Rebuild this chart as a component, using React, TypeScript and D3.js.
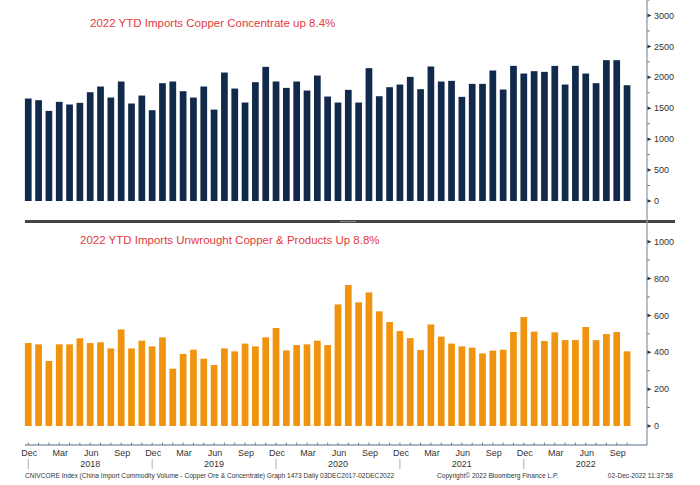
import * as d3 from "d3";

// monthly imports, Dec 2017 .. Oct 2022
const months = d3.timeMonth.range(new Date(2017, 11, 1), new Date(2022, 10, 1));

const concentrate = [
  1657, 1630, 1457, 1603, 1560, 1587, 1759, 1851, 1673, 1932, 1576, 1705,
  1468, 1905, 1932, 1775, 1673, 1851, 1478, 2077, 1818, 1592, 1921, 2169,
  1932, 1829, 1932, 1786, 2029, 1689, 1592, 1797, 1592, 2148, 1694, 1840,
  1883, 2007, 1808, 2175, 1932, 1943, 1684, 1894, 1894, 2110, 1802, 2185,
  2061, 2099, 2088, 2185, 1883, 2185, 2061, 1905, 2277, 2277, 1872,
];

const unwrought = [
  450, 443, 353, 443, 443, 476, 450, 454, 421, 524, 421, 463,
  432, 481, 311, 391, 414, 365, 331, 421, 405, 447, 432, 481,
  532, 410, 439, 443, 463, 439, 660, 765, 671, 725, 622, 564,
  515, 477, 412, 551, 485, 447, 432, 425, 394, 409, 414, 510,
  591, 512, 461, 508, 466, 466, 537, 466, 499, 510, 405,
];

const topTicks = [0, 500, 1000, 1500, 2000, 2500, 3000];
const bottomTicks = [0, 200, 400, 600, 800, 1000];

const topTitle = "2022 YTD Imports Copper Concentrate up 8.4%";
const bottomTitle = "2022 YTD Imports Unwrought Copper & Products Up 8.8%";
const footLeft =
  "CNIVCORE Index (China Import Commodity Volume - Copper Ore & Concentrate) Graph 1473  Daily 03DEC2017-02DEC2022";
const footMid = "Copyright\u00a9 2022 Bloomberg Finance L.P.";
const footRight = "02-Dec-2022 11:37:58";

const W = 700;
const H = 485;
const axisX = 647;
const axisColor = "#8a9db0";
const font = "'Liberation Sans', Arial, sans-serif";

export default function App() {
  const x = d3
    .scaleBand<number>()
    .domain(d3.range(months.length))
    .range([23.1, 632.2])
    .paddingInner(0.35)
    .paddingOuter(0.175);

  const yTop = d3.scaleLinear().domain([0, 3250]).range([201, 0]);
  const yBot = d3.scaleLinear().domain([0, 1000]).range([426, 241.7]);

  const fmtMonth = d3.timeFormat("%b");
  const cx = (i: number) => (x(i) as number) + x.bandwidth() / 2;

  const yAxis = (y: d3.ScaleLinear<number, number>, ticks: number[], minorStep: number, maxV: number) => {
    const minor = d3.range(0, maxV + 1, minorStep).filter((v) => !ticks.includes(v));
    return (
      <g>
        {minor.map((v) => (
          <line key={"m" + v} x1={axisX} x2={axisX + 2.5} y1={y(v)} y2={y(v)} stroke="#555" strokeWidth={1} />
        ))}
        {ticks.map((v) => (
          <g key={v} transform={`translate(${axisX},${y(v)})`}>
            <path d="M0,-2 L4.5,0 L0,2 Z" fill="#333" />
            <text x={7} dy="0.35em" fontSize={9} fill="#333" fontFamily={font}>
              {v}
            </text>
          </g>
        ))}
      </g>
    );
  };

  return (
    <svg width={W} height={H} style={{ position: "absolute", left: 0, top: 0, background: "#fff" }}>
      <rect width={W} height={H} fill="#fff" />

      {/* top panel */}
      <text x={90} y={27} fontSize={11.5} fill="#e23a3e" fontFamily={font}>
        {topTitle}
      </text>
      {concentrate.map((v, i) => (
        <rect key={i} x={x(i)} y={yTop(v)} width={x.bandwidth()} height={yTop(0) - yTop(v)} fill="#11294a" />
      ))}
      {yAxis(yTop, topTicks, 250, 3250)}

      {/* splitter */}
      <line x1={25} x2={675} y1={221.5} y2={221.5} stroke="#444" strokeWidth={3.2} />
      <line x1={340} x2={356} y1={221.5} y2={221.5} stroke="#888" strokeWidth={1.2} />

      {/* bottom panel */}
      <text x={80} y={244} fontSize={11.5} fill="#e23a3e" fontFamily={font}>
        {bottomTitle}
      </text>
      {unwrought.map((v, i) => (
        <rect key={i} x={x(i)} y={yBot(v)} width={x.bandwidth()} height={yBot(0) - yBot(v)} fill="#f0930e" />
      ))}
      {yAxis(yBot, bottomTicks, 100, 1050)}

      {/* right axis line */}
      <line x1={axisX} x2={axisX} y1={0} y2={445} stroke={axisColor} strokeWidth={1.3} />

      {/* x axis */}
      <line x1={25} x2={axisX} y1={445} y2={445} stroke={axisColor} strokeWidth={1.3} />
      {months.map((m, i) => (
        <line key={"t" + i} x1={cx(i)} x2={cx(i)} y1={445} y2={442.5} stroke="#666" strokeWidth={0.8} />
      ))}
      {months.map((m, i) =>
        m.getMonth() % 3 === 2 ? (
          <text key={"l" + i} x={cx(i) + 1} y={456} fontSize={9} fill="#333" textAnchor="middle" fontFamily={font}>
            {fmtMonth(m)}
          </text>
        ) : null
      )}
      {months.map((m, i) =>
        m.getMonth() === 11 ? (
          <line key={"s" + i} x1={cx(i)} x2={cx(i)} y1={459} y2={469} stroke="#999" strokeWidth={0.8} />
        ) : null
      )}
      {months.map((m, i) =>
        m.getMonth() === 5 ? (
          <text key={"y" + i} x={cx(i)} y={467} fontSize={9} fill="#333" textAnchor="middle" fontFamily={font}>
            {m.getFullYear()}
          </text>
        ) : null
      )}

      {/* footer */}
      <text x={25} y={478} fontSize={6.6} fill="#333" fontFamily={font}>
        {footLeft}
      </text>
      <text x={437} y={478} fontSize={6.6} fill="#333" fontFamily={font}>
        {footMid}
      </text>
      <text x={673} y={478} fontSize={6.6} fill="#333" textAnchor="end" fontFamily={font}>
        {footRight}
      </text>
    </svg>
  );
}
